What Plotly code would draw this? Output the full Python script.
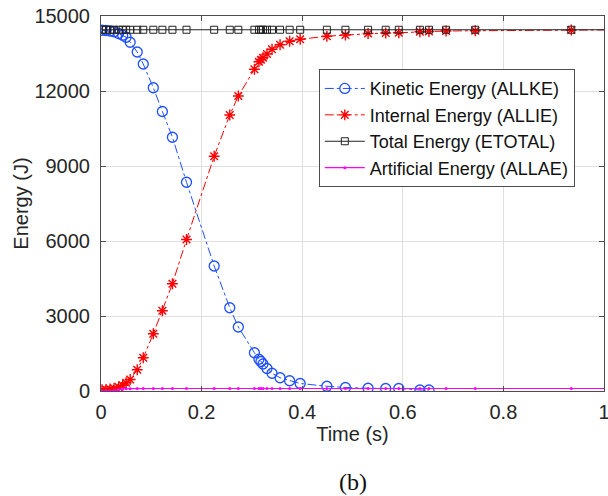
import plotly.graph_objects as go

# time (s)
time = [0.002, 0.010, 0.018, 0.026, 0.035, 0.043, 0.050, 0.058, 0.072, 0.084,
        0.104, 0.122, 0.142, 0.170, 0.225, 0.256, 0.273, 0.305, 0.314, 0.318,
        0.322, 0.330, 0.340, 0.356, 0.375, 0.396, 0.449, 0.486, 0.531, 0.566,
        0.592, 0.634, 0.652, 0.686, 0.744, 0.935, 1.05]

# kinetic energy only recorded up to t=0.652
allke = [14430, 14420, 14400, 14370, 14300, 14230, 14150, 13950, 13560, 13080,
         12130, 11180, 10150, 8350, 5000, 3330, 2560, 1530, 1270, 1180,
         1080, 900, 710, 530, 410, 300, 190, 140, 110, 100,
         100, 40, 40]

allie = [50, 60, 80, 110, 160, 230, 330, 460, 850, 1330,
         2290, 3210, 4290, 6060, 9390, 11040, 11800, 12870, 13170, 13250,
         13330, 13480, 13670, 13850, 13990, 14070, 14190, 14240, 14300, 14320,
         14330, 14370, 14380, 14400, 14410, 14440, 14450]

etotal = [14450] * 37

allae = [0, 0, 5, 20, 50, 80, 90, 95, 100, 100,
         100, 100, 100, 100, 100, 100, 100, 100, 100, 100,
         100, 100, 100, 100, 100, 100, 100, 100, 100, 100,
         100, 100, 100, 100, 100, 100, 100]

xticks = [0, 0.2, 0.4, 0.6, 0.8, 1]
yticks = [0, 3000, 6000, 9000, 12000, 15000]

font = "Liberation Sans, Arial, sans-serif"
txt = "#262626"

fig = go.Figure()
fig.add_trace(go.Scatter(
    x=time[:len(allke)], y=allke, name="Kinetic Energy (ALLKE)", mode="lines+markers",
    line=dict(color="#1f4fff", width=1, dash="dashdot"),
    marker=dict(symbol="circle-open", size=10, color="#1f4fff", line=dict(width=1.3)),
))
fig.add_trace(go.Scatter(
    x=time, y=allie, name="Internal Energy (ALLIE)", mode="lines+markers",
    line=dict(color="#ff0000", width=1, dash="dashdot"),
    marker=dict(symbol="asterisk-open", size=9, color="#ff0000", line=dict(width=1.4, color="#ff0000")),
))
fig.add_trace(go.Scatter(
    x=time, y=etotal, name="Total Energy (ETOTAL)", mode="lines+markers",
    line=dict(color="#222222", width=1),
    marker=dict(symbol="square-open", size=7, color="#222222", line=dict(width=1)),
))
fig.add_trace(go.Scatter(
    x=time, y=allae, name="Artificial Energy (ALLAE)", mode="lines+markers",
    line=dict(color="#ff00ff", width=1.2),
    marker=dict(symbol="circle", size=3, color="#ff00ff"),
))

axis_common = dict(
    showgrid=True, gridcolor="#dfdfdf", gridwidth=1,
    showline=True, linecolor="#4d4d4d", linewidth=1, mirror="ticks",
    ticks="inside", ticklen=5, tickcolor="#4d4d4d",
    tickfont=dict(family=font, size=20, color=txt),
    zeroline=False, automargin=False, ticklabeloverflow="allow",
)

fig.update_xaxes(
    range=[0, 1], tickvals=xticks, ticktext=[str(v) for v in xticks],
    title=dict(text="Time (s)", font=dict(family=font, size=20, color=txt), standoff=4),
    ticklabelstandoff=3,
    **axis_common,
)
fig.update_yaxes(
    range=[0, 15000], tickvals=yticks, ticktext=[str(v) for v in yticks],
    title=dict(text="Energy (J)", font=dict(family=font, size=20, color=txt), standoff=0),
    ticklabelstandoff=6,
    **axis_common,
)

fig.update_layout(
    width=608, height=496,
    margin=dict(l=101, r=4, t=16, b=105),
    paper_bgcolor="white", plot_bgcolor="white",
    showlegend=True,
    legend=dict(
        x=0.433, y=0.858, xanchor="left", yanchor="top",
        bgcolor="white", bordercolor="#4d4d4d", borderwidth=1,
        font=dict(family=font, size=18, color="#111111"),
        tracegroupgap=0, itemwidth=40,
    ),
    annotations=[dict(
        text="(b)", x=0.5, y=-0.243, xref="paper", yref="paper",
        xanchor="center", yanchor="middle", showarrow=False,
        font=dict(family="Liberation Serif, Times New Roman, serif", size=24, color="#111111"),
    )],
)

# drop the default page margin so the figure sits at the window's corner
fig.write_html("out.html", config={"displayModeBar": False},
               post_script="document.body.style.margin='0px';")
